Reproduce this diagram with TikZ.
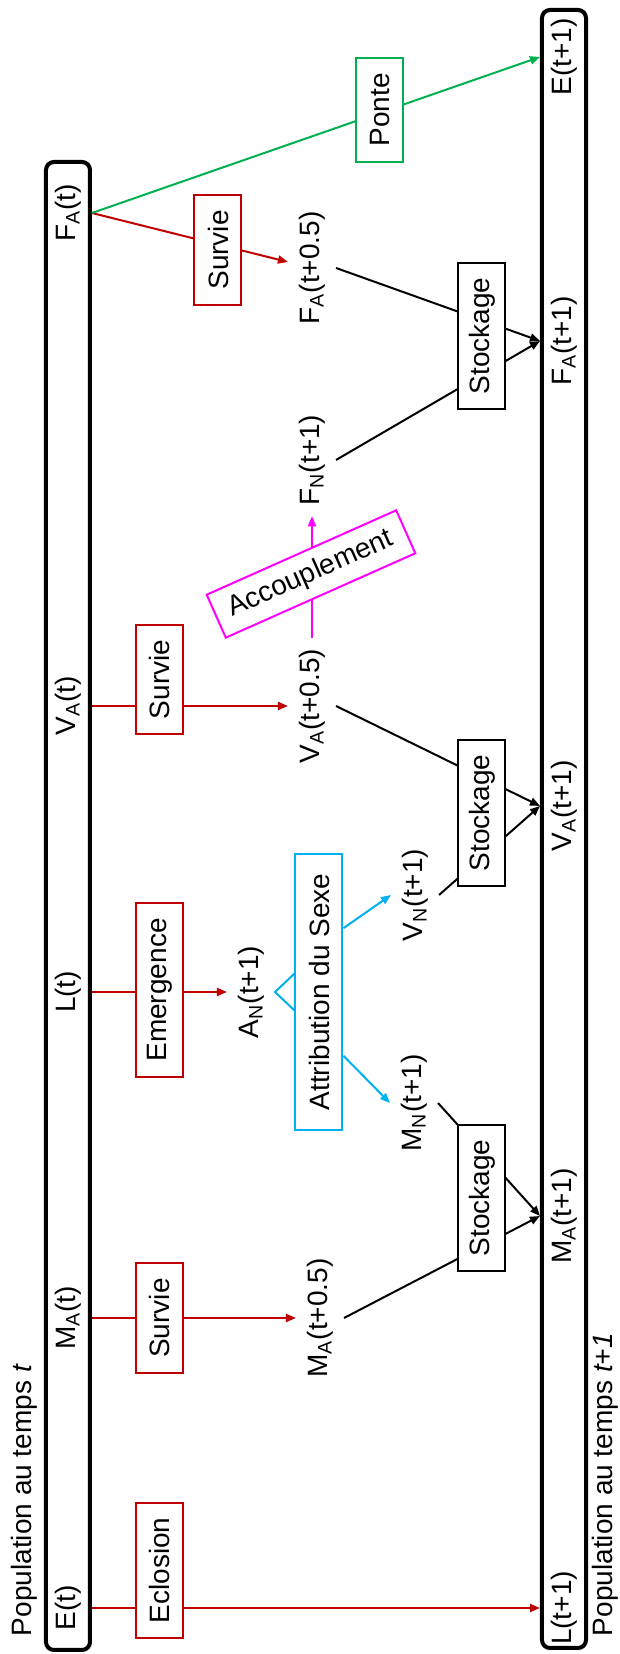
\documentclass[tikz,border=0pt]{standalone}
\usepackage{fontspec}
\setmainfont{Liberation Sans}
\usepackage{tikz}
\usetikzlibrary{arrows.meta}
\definecolor{rouge}{HTML}{C00000}
\definecolor{bleu}{HTML}{00B0F0}
\definecolor{vert}{HTML}{00B050}
\definecolor{rose}{HTML}{FF00FF}
\tikzset{every picture/.style={line width=1pt}}
\tikzset{
  pop/.style={draw, line width=2pt, rounded corners=4pt},
  etat/.style={inner sep=5pt},
  popetat/.style={inner sep=0pt, minimum height=23pt},
  proc/.style={draw, fill=white, text=black, inner xsep=7.5pt, minimum height=23.5pt},
  procR/.style={proc, draw=rouge},
  fl/.style={-{Triangle[length=5pt,width=4pt]}},
}

\begin{document}
\begin{tikzpicture}[x=0.5pt, y=0.5pt, rotate=90, transform shape, font=\fontsize{14}{16}\selectfont]
\useasboundingbox (0,0) rectangle (1654,620);

% temps t
\draw[pop] (4,530) rectangle (1492,574);
\node[anchor=west, inner sep=0pt] (titret) at (17,596) {Population au temps \textit{t}};
\node[popetat] (Et) at (46,552) {E(t)};
\node[popetat] (MAt) at (336,552) {M\textsubscript{A}(t)};
\node[popetat] (Lt) at (662,552) {L(t)};
\node[popetat] (VAt) at (948,552) {V\textsubscript{A}(t)};
\node[popetat] (FAt) at (1441,552) {F\textsubscript{A}(t)};

% temps t+1
\draw[pop] (6,34) rectangle (1644,78);
\node[anchor=west, inner sep=0pt] (titret1) at (17,15) {Population au temps \textit{t+1}};
\node[popetat] (L1) at (46,56) {L(t+1)};
\node[popetat] (MA1) at (438,56) {M\textsubscript{A}(t+1)};
\node[popetat] (VA1) at (848,56) {V\textsubscript{A}(t+1)};
\node[popetat] (FA1) at (1313,56) {F\textsubscript{A}(t+1)};
\node[popetat] (E1) at (1597,56) {E(t+1)};

\node[etat] (MAh) at (336,300) {M\textsubscript{A}(t+0.5)};
\node[etat] (ANt) at (662,369) {A\textsubscript{N}(t+1)};
\node[etat] (MNt) at (551,206) {M\textsubscript{N}(t+1)};
\node[etat] (VNt) at (759,205) {V\textsubscript{N}(t+1)};
\node[etat] (VAh) at (948,308) {V\textsubscript{A}(t+0.5)};
\node[etat] (FNt) at (1194,308) {F\textsubscript{N}(t+1)};
\node[etat] (FAh) at (1386,308) {F\textsubscript{A}(t+0.5)};

\node[proc, draw=bleu, minimum width=138pt] (attr) at (662,301) {Attribution du Sexe};

\draw[fl, rouge] (Et.south) -- (L1.north);
\draw[fl, rouge] (MAt.south) -- (MAh.north);
\draw[fl, rouge] (Lt.south) -- (ANt.north);
\draw[fl, rouge] (VAt.south) -- (VAh.north);
\draw[fl, rouge] (FAt.south) -- (FAh);
\draw[fl, vert] (FAt.south) -- (E1.north);
\draw[fl, rose] (VAh) -- (FNt);
\draw[bleu] (attr.127) -- (ANt.south) -- (attr.53);
\draw[fl, bleu] (attr.-159) -- (MNt.north);
\draw[fl, bleu] (attr.-21) -- (VNt.north);
\draw[fl] (MAh.south) -- (MA1.north);
\draw[fl] (MNt.south) -- (MA1.north);
\draw[fl] (VAh.south) -- (VA1.north);
\draw[fl] (VNt.south) -- (VA1.north);
\draw[fl] (FAh.south) -- (FA1.north);
\draw[fl] (FNt.south) -- (FA1.north);

% processus
\node[procR] (eclo) at (83.5,460.5) {Eclosion};
\node[procR] (survM) at (336,460.5) {Survie};
\node[procR] (emer) at (664,460.5) {Emergence};
\node[procR] (survV) at (974.5,460.5) {Survie};
\node[procR] (survF) at (1404,402) {Survie};
\node[proc, draw=vert] (ponte) at (1544,240) {Ponte};
\node[proc, draw=rose, rotate=-66, minimum width=102.5pt] (accoupl) at (1080,309) {Accouplement};
\node[proc] (stoM) at (456,138) {Stockage};
\node[proc] (stoV) at (841,138) {Stockage};
\node[proc] (stoF) at (1318,138) {Stockage};
\end{tikzpicture}
\end{document}
